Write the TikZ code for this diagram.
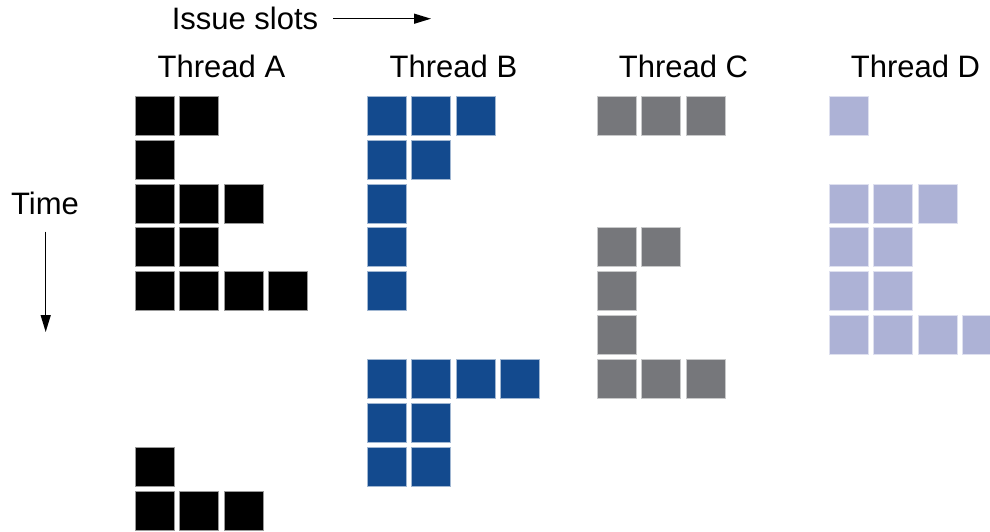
\documentclass[tikz,border=0pt]{standalone}
\usepackage{fontspec}
\setmainfont{Liberation Sans}
\usetikzlibrary{arrows.meta}
\definecolor{slotA}{RGB}{0,0,0}
\definecolor{slotB}{RGB}{19,74,142}
\definecolor{slotC}{RGB}{118,119,123}
\definecolor{slotD}{RGB}{173,178,214}
\begin{document}
\begin{tikzpicture}[x=1pt,y=-1pt,->,>={Triangle[length=17pt,width=10pt]},
  line width=1.3pt,
  label node/.style={font=\fontsize{31}{36}\selectfont,inner sep=0pt,anchor=base},
  slot node/.style={rectangle,minimum size=39pt,inner sep=0pt,fill=#1,draw=#1!40,line width=0.6pt}]
  \clip (0,0) rectangle (990,531);
%axes
  \node[label node] (issue) at (245,29.5) {Issue slots};
  \coordinate (issue tail) at (333,18.7);
  \coordinate (issue head) at (431,18.7);
  \node[label node] (time) at (45,214.5) {Time};
  \coordinate (time tail) at (45.7,231.7);
  \coordinate (time head) at (45.7,332);
  \draw (issue tail) -- (issue head);
  \draw (time tail) -- (time head);
%threads
  \foreach \t/\x/\rows in {A/135/{0/2,1/1,2/3,3/2,4/4,8/1,9/3},
                           B/367/{0/3,1/2,2/1,3/1,4/1,6/4,7/2,8/2},
                           C/597/{0/3,3/2,4/1,5/1,6/3},
                           D/829/{0/1,2/3,3/2,4/2,5/4}}
  {
    \node[label node] (thread \t) at (\x+86.5,77) {Thread \t};
    \foreach \r/\n in \rows
      \foreach \c in {1,...,\n}
        \node[slot node=slot\t] (\t-\r-\c) at (\x+44.5*\c-25, 115.5+43.9*\r) {};
  }
\end{tikzpicture}
\end{document}
